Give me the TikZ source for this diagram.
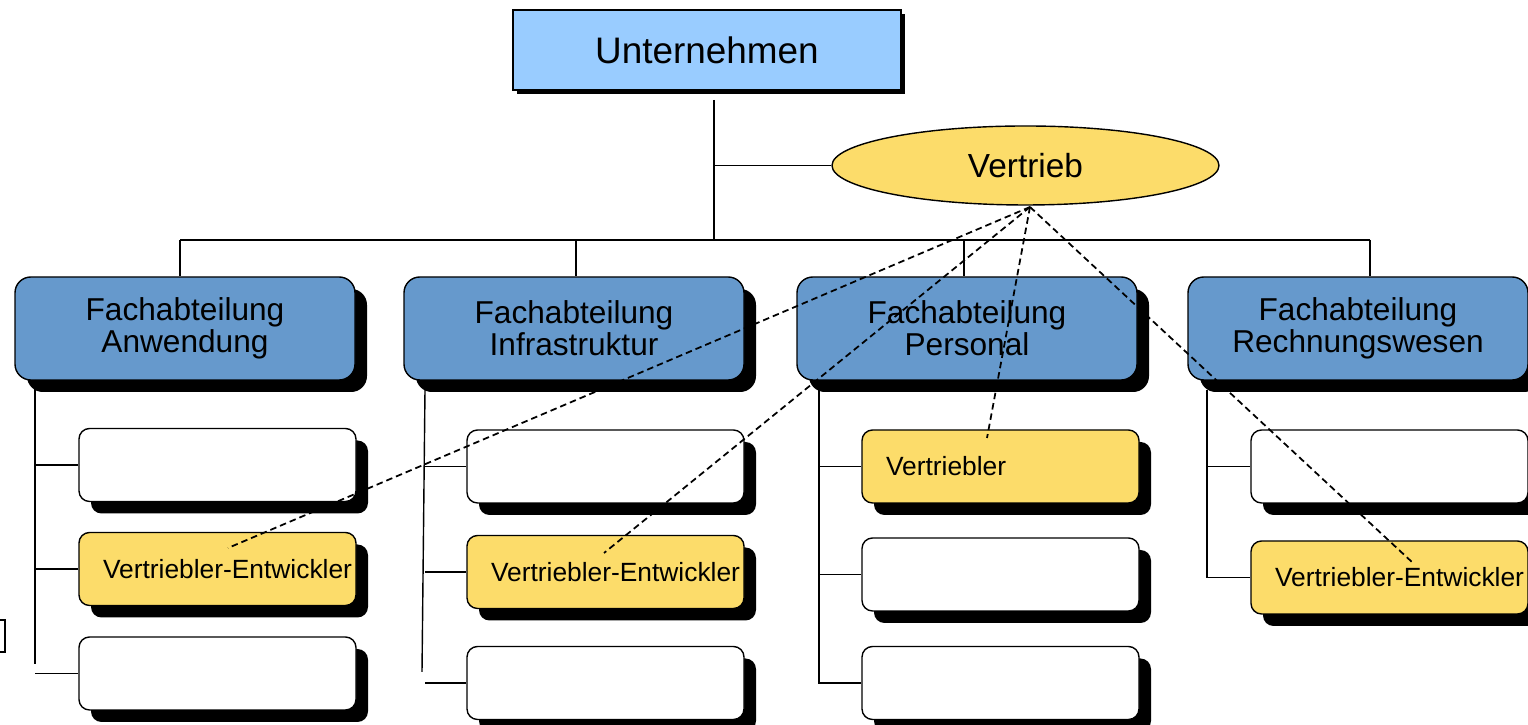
\documentclass[tikz,border=0pt]{standalone}
\usepackage{fontspec}
\setmainfont{Liberation Sans}
\usepackage{tikz}
\usetikzlibrary{shapes.geometric,shadows}
\definecolor{hellblau}{RGB}{153,204,255}
\definecolor{abtblau}{RGB}{102,153,204}
\definecolor{gelb}{RGB}{252,220,106}

\begin{document}
\begin{tikzpicture}[x=0.1mm,y=-0.1mm]
      \tikzstyle{chef}=[draw,fill=hellblau,minimum width=3.88cm,minimum height=0.8cm,font=\fontsize{10.5}{12}\selectfont,drop shadow={shadow xshift=0.04cm,shadow yshift=-0.04cm,opacity=1,fill=black}]
      \tikzstyle{bereich}=[draw,ellipse,fill=gelb,minimum width=3.87cm,minimum height=0.79cm,inner sep=0pt,font=\fontsize{9.5}{11}\selectfont]
      \tikzstyle{abt}=[draw,rounded corners=4.5pt,fill=abtblau,minimum width=3.4cm,minimum height=1.03cm,align=center,font=\fontsize{9}{9}\selectfont,drop shadow={shadow xshift=0.12cm,shadow yshift=-0.12cm,opacity=1,fill=black}]
      \tikzstyle{stelle}=[draw,rounded corners=3pt,fill=white,minimum width=2.77cm,minimum height=0.73cm,text width=2.29cm,inner xsep=0.24cm,align=left,font=\fontsize{7.5}{9}\selectfont,drop shadow={shadow xshift=0.12cm,shadow yshift=-0.12cm,opacity=1,fill=black}]
      \tikzstyle{vstelle}=[stelle,fill=gelb]
      \tikzstyle{vlinie}=[line width=0.5pt,dash pattern=on 0.065cm off 0.04cm]

      \useasboundingbox (0,0) rectangle (1528,725);

      \node[chef] (u) at (707,50) {Unternehmen};
      \node[bereich] (vt) at (1025.5,165.5) {Vertrieb};

      \node[abt] (a0) at (185,328.5) {Fachabteilung\\Anwendung};
      \node[abt] (a1) at (574,328.5) {Fachabteilung\\Infrastruktur};
      \node[abt] (a2) at (967,328.5) {Fachabteilung\\Personal};
      \node[abt] (a3) at (1358,328.5) {Fachabteilung\\Rechnungswesen};

      \node[stelle] (s00) at (217.5,465) {};
      \node[vstelle] (s01) at (217.5,569) {\mbox{Vertriebler-Entwickler}};
      \node[stelle] (s02) at (217.5,673.5) {};

      \node[stelle] (s10) at (605.5,466.5) {};
      \node[vstelle] (s11) at (605.5,572) {\mbox{Vertriebler-Entwickler}};
      \node[stelle] (s12) at (605.5,683) {};

      \node[vstelle] (s20) at (1000.5,466.5) {Vertriebler};
      \node[stelle] (s21) at (1000.5,574.5) {};
      \node[stelle] (s22) at (1000.5,683) {};

      \node[stelle] (s30) at (1389.5,466.5) {};
      \node[vstelle] (s31) at (1389.5,577.5) {\mbox{Vertriebler-Entwickler}};

      % Stamm
      \coordinate (j0) at (714,100);
      \coordinate (j1) at (714,165.5);
      \coordinate (j2) at (714,240);
      \draw (j0) -- (j2);
      \draw (j1) -- (vt.west);

      \coordinate (b0) at (180,240);
      \coordinate (b1) at (576,240);
      \coordinate (b2) at (964,240);
      \coordinate (b3) at (1370,240);
      \draw (b0) -- (b3);
      \draw (b0) -- (b0 |- a0.north);
      \draw (b1) -- (b1 |- a1.north);
      \draw (b2) -- (b2 |- a2.north);
      \draw (b3) -- (b3 |- a3.north);

      % Stellen
      \coordinate (l0) at (35,380);
      \coordinate (e0) at (35,664);
      \draw (l0) -- (e0);
      \draw (l0 |- s00.west) -- (s00.west);
      \draw (l0 |- s01.west) -- (s01.west);
      \draw (l0 |- s02.west) -- (s02.west);

      \coordinate (l1) at (425,390);
      \coordinate (e1) at (422,672);
      \draw (l1) -- (e1);
      \draw (l1 |- s10.west) -- (s10.west);
      \draw (l1 |- s11.west) -- (s11.west);
      \draw (l1 |- s12.west) -- (s12.west);

      \coordinate (l2) at (819,390);
      \draw (l2) |- (s22.west);
      \draw (l2 |- s20.west) -- (s20.west);
      \draw (l2 |- s21.west) -- (s21.west);

      \coordinate (l3) at (1207,390);
      \draw (l3) |- (s31.west);
      \draw (l3 |- s30.west) -- (s30.west);

      % Vertrieb
      \coordinate (vp) at (1030,207);
      \coordinate (d0) at (228,548);
      \coordinate (d1) at (604,553);
      \coordinate (d2) at (987,438);
      \coordinate (d3) at (1413,563);
      \draw[vlinie] (vp) -- (d0);
      \draw[vlinie] (vp) -- (d1);
      \draw[vlinie] (vp) -- (d2);
      \draw[vlinie] (vp) -- (d3);

      \draw[line width=0.5pt] (0,620) -- (5,620) -- (5,652) -- (0,652);
    \end{tikzpicture}
\end{document}
